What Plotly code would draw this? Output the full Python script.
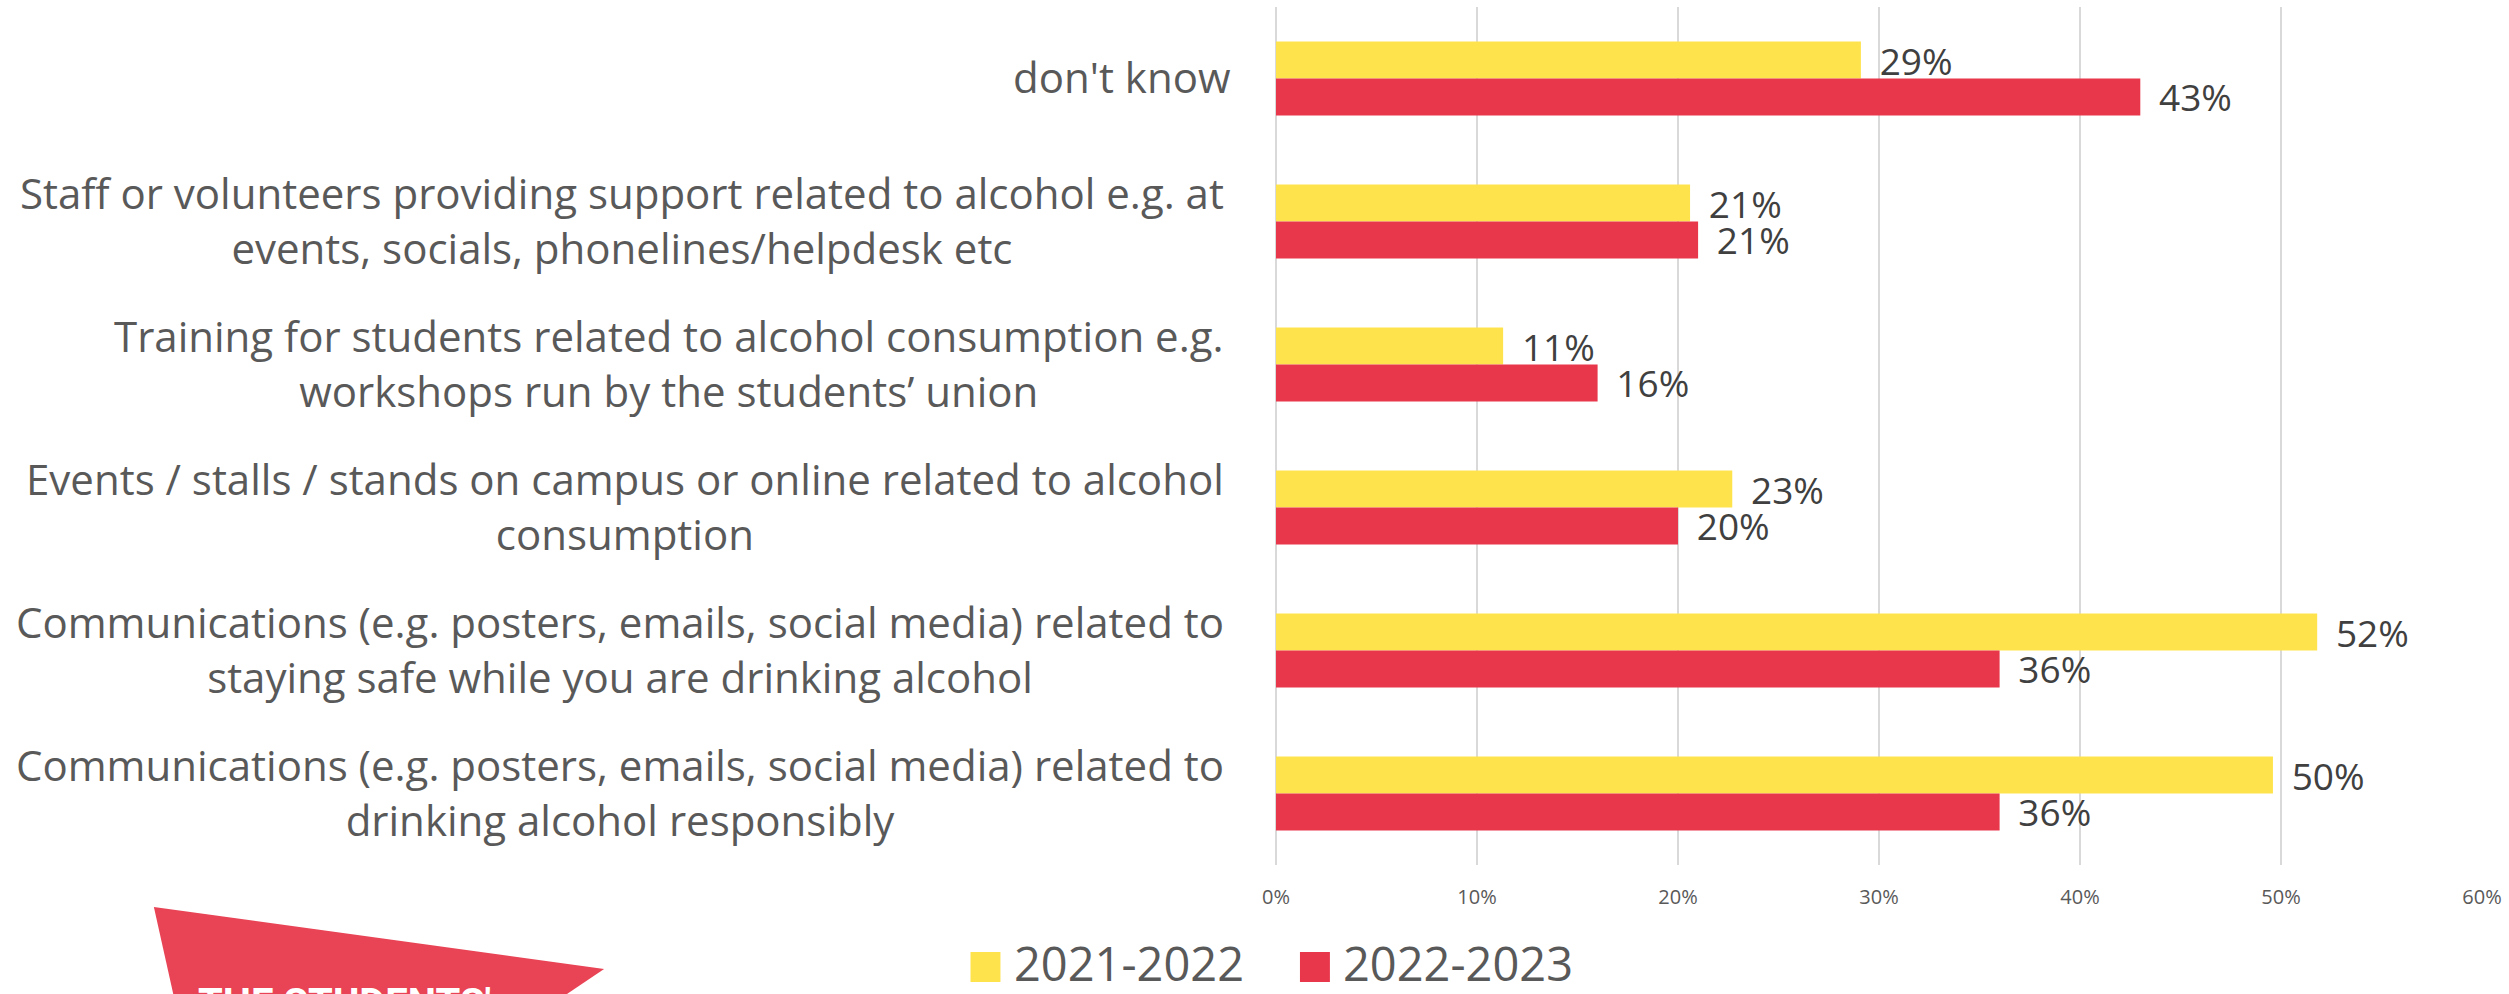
import plotly.graph_objects as go

# Survey options, listed top to bottom
categories = [
    "don't know",
    "Staff or volunteers providing support related to alcohol e.g. at<br>events, socials, phonelines/helpdesk etc",
    "Training for students related to alcohol consumption e.g.<br>workshops run by the students’ union",
    "Events / stalls / stands on campus or online related to alcohol<br>consumption",
    "Communications (e.g. posters, emails, social media) related to<br>staying safe while you are drinking alcohol",
    "Communications (e.g. posters, emails, social media) related to<br>drinking alcohol responsibly",
]
series_names = ["2021-2022", "2022-2023"]
values_2021_22 = [0.291, 0.206, 0.113, 0.227, 0.518, 0.496]
values_2022_23 = [0.430, 0.210, 0.160, 0.200, 0.360, 0.360]
x_ticks = [0, 0.1, 0.2, 0.3, 0.4, 0.5, 0.6]

COLORS = ["#FFE34D", "#E8364B"]
LABEL_GREY = "#595959"
VALUE_GREY = "#404040"
FONT = "Open Sans, Noto Sans, sans-serif"

W, H = 2509, 994
M_L, M_R, M_T, M_B = 1276, 25, 7, 129
PLOT_W = W - M_L - M_R
PLOT_H = H - M_T - M_B


def px_x(px):
    """Figure pixel column -> paper x."""
    return (px - M_L) / PLOT_W


def px_y(py):
    """Figure pixel row -> paper y."""
    return (H - M_B - py) / PLOT_H


fig = go.Figure()
for name, vals, color in zip(series_names, [values_2021_22, values_2022_23], COLORS):
    fig.add_trace(go.Bar(
        y=categories,
        x=vals,
        name=name,
        orientation="h",
        marker=dict(color=color, line=dict(width=0)),
        texttemplate="\u00a0\u2009%{x:.0%}",
        textposition="outside",
        constraintext="none",
        cliponaxis=False,
        textfont=dict(family=FONT, size=37, color=VALUE_GREY),
        showlegend=False,
    ))

# Category labels, centred line by line, right-aligned against the axis
annotations = []
for cat in categories:
    single = "<br>" not in cat
    annotations.append(dict(
        x=px_x(1233 if single else 1226), xref="paper", xanchor="right",
        y=cat, yref="y", yanchor="middle",
        yshift=2,
        text=cat, showarrow=False, align="center",
        font=dict(family=FONT, size=42, color=LABEL_GREY),
    ))

# Legend drawn as swatches + text
shapes = []
legend_swatch_x = [970, 1300]
legend_text_x = [1012, 1341]
for name, color, sx, tx in zip(series_names, COLORS, legend_swatch_x, legend_text_x):
    shapes.append(dict(
        type="rect", xref="paper", yref="paper",
        x0=px_x(sx), x1=px_x(sx + 30), y0=px_y(952), y1=px_y(982),
        fillcolor=color, line=dict(width=0),
    ))
    annotations.append(dict(
        x=px_x(tx), xref="paper", xanchor="left",
        y=px_y(963), yref="paper", yanchor="middle",
        text=name, showarrow=False,
        font=dict(family=FONT, size=47, color=LABEL_GREY),
    ))

# Union badge in the lower-left corner
badge = [(152, 907), (603, 969), (542, 1010), (175, 1010)]
path = "M " + " L ".join(f"{px_x(a):.5f},{px_y(b):.5f}" for a, b in badge) + " Z"
shapes.append(dict(
    type="path", xref="paper", yref="paper", path=path,
    fillcolor="#E84455", line=dict(width=0), layer="above",
))
annotations.append(dict(
    x=px_x(194), xref="paper", xanchor="left",
    y=px_y(978), yref="paper", yanchor="top",
    text="<b>THE STUDENTS'</b>", showarrow=False,
    font=dict(family="Roboto, Open Sans, sans-serif", size=40, color="#FFFFFF"),
))

fig.update_layout(
    width=W, height=H,
    margin=dict(l=M_L, r=M_R, t=M_T, b=M_B),
    paper_bgcolor="white", plot_bgcolor="white",
    barmode="group", bargap=0.483, bargroupgap=0,
    showlegend=False,
    shapes=shapes,
    annotations=annotations,
    xaxis=dict(
        range=[0, 0.6], tickvals=x_ticks, tickformat=".0%",
        showgrid=True, gridcolor="#D9D9D9", gridwidth=2,
        zeroline=True, zerolinecolor="#D9D9D9", zerolinewidth=2,
        showline=False, ticks="",
        tickfont=dict(family=FONT, size=20, color=LABEL_GREY),
        ticklabelstandoff=18,
        fixedrange=True,
    ),
    yaxis=dict(
        autorange="reversed", showticklabels=False, showgrid=False,
        zeroline=False, showline=False, ticks="", fixedrange=True,
    ),
)

fig.write_html("out.html")
